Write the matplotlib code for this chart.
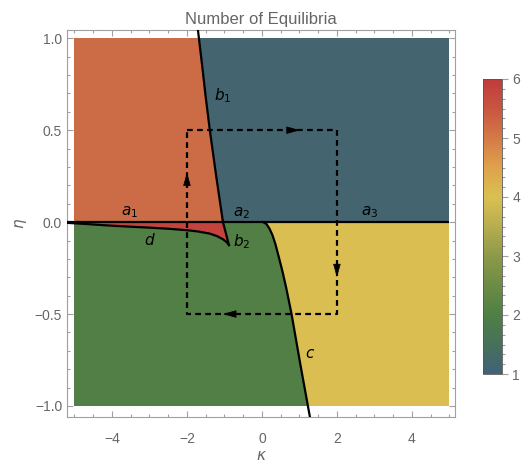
import matplotlib
matplotlib.use("Agg")
from matplotlib import pyplot as plt
from matplotlib.patches import Polygon, Rectangle
from matplotlib.colors import LinearSegmentedColormap, Normalize
from matplotlib.ticker import MultipleLocator, FuncFormatter

# boundary curves (kappa, eta)
b1_x = [-0.88, -0.95, -1.04, -1.22, -1.39, -1.5, -1.6, -1.71]
b1_y = [-0.125, -0.07, 0.0, 0.25, 0.5, 0.68, 0.86, 1.05]

d_x = [-0.88, -0.95, -1.05, -1.2, -1.4, -1.7, -2.0, -2.5, -3.0, -3.6, -4.2, -4.7, -5.2]
d_y = [-0.125, -0.107, -0.092, -0.076, -0.062, -0.051, -0.044, -0.036, -0.03, -0.024, -0.017, -0.01, -0.004]

c_x = [0.03, 0.12, 0.2, 0.28, 0.36, 0.45, 0.55, 0.65, 0.79, 1.03, 1.28]
c_y = [0.0, -0.01, -0.035, -0.07, -0.12, -0.19, -0.27, -0.36, -0.5, -0.78, -1.06]

# dashed loop and its arrows (tail x, tail y, tip x, tip y)
loop_x = [-2, 2, 2, -2, -2]
loop_y = [0.5, 0.5, -0.5, -0.5, 0.5]
arrows = [(-2, 0.2, -2, 0.27), (0.72, 0.5, 1.01, 0.5),
          (2, -0.22, 2, -0.3), (-0.72, -0.5, -1.04, -0.5)]

labels = [("$a_1$", -3.52, 0.055), ("$a_2$", -0.54, 0.05), ("$a_3$", 2.88, 0.055),
          ("$b_1$", -1.05, 0.69), ("$b_2$", -0.54, -0.107), ("$c$", 1.28, -0.72),
          ("$d$", -2.99, -0.098)]

col_1 = "#44646f"
col_2 = "#517f45"
col_3 = "#dabe52"
col_5 = "#cb6c47"
col_6 = "#c4433e"

cbar_colors = ["#41617a", "#46715a", "#4f7f45", "#6c8c45", "#8d9a48", "#b7ad50",
               "#d9c052", "#dfa24c", "#d47a47", "#c9563f", "#bf3b3c"]

gray = "#666666"
frame = "#a0a0a0"

plt.rcParams["font.family"] = ["Liberation Sans", "DejaVu Sans"]
plt.rcParams["mathtext.fontset"] = "dejavusans"

fig = plt.figure(figsize=(5.21, 4.66), dpi=100)
ax = fig.add_axes([67 / 521, 49 / 466, 388 / 521, 387 / 466])
ax.set_xlim(-5.2, 5.15)
ax.set_ylim(-1.06, 1.045)

clip = Rectangle((-5, -1), 10, 2, transform=ax.transData)

up_b1 = [(x, y) for x, y in zip(b1_x, b1_y) if y >= 0]
low_b1 = [(x, y) for x, y in zip(b1_x, b1_y) if y <= 0]
c_pts = list(zip(c_x, c_y))
d_pts = list(zip(d_x, d_y))

polys = [
    ([(-6, 0)] + up_b1 + [(-6, 1.2)], col_5),
    (up_b1 + [(-1.71, 1.2), (6, 1.2), (6, 0)], col_1),
    ([(-6, 0)] + c_pts + [(1.3, -1.2), (-6, -1.2)], col_2),
    (c_pts + [(1.3, -1.2), (6, -1.2), (6, 0)], col_3),
    ([(-6, 0), (-1.04, 0)] + low_b1[::-1][1:] + d_pts[1:] + [(-6, -0.004)], col_6),
]

for pts, col in polys:
    p = Polygon(pts, closed=True, facecolor=col, edgecolor="none", zorder=1)
    ax.add_patch(p)
    p.set_clip_path(clip)

lw = 1.6
ax.plot([-5.2, 5.0], [0, 0], color="black", lw=lw, zorder=3, solid_capstyle="butt")
ax.plot(b1_x, b1_y, color="black", lw=lw, zorder=3)
ax.plot(d_x, d_y, color="black", lw=lw, zorder=3)
ax.plot(c_x, c_y, color="black", lw=lw, zorder=3)

ax.plot(loop_x, loop_y, color="black", lw=1.6, ls=(0, (2.6, 1.9)), zorder=4)
for x0, y0, x1, y1 in arrows:
    ax.annotate("", xy=(x1, y1), xytext=(x0, y0),
                arrowprops=dict(arrowstyle="-|>,head_length=0.85,head_width=0.24",
                                color="black", lw=0.5, shrinkA=0, shrinkB=0), zorder=5)

for txt, x, y in labels:
    ax.text(x, y, txt, fontsize=11, ha="center", va="center", zorder=6)

ax.set_title("Number of Equilibria", color=gray, fontsize=12, pad=4)
ax.set_xlabel(r"$\kappa$", color=gray, fontsize=11, labelpad=2)
ax.set_ylabel(r"$\eta$", color=gray, fontsize=11, labelpad=4)

ax.xaxis.set_major_locator(MultipleLocator(2))
ax.xaxis.set_minor_locator(MultipleLocator(0.5))
ax.yaxis.set_major_locator(MultipleLocator(0.5))
ax.yaxis.set_minor_locator(MultipleLocator(0.1))
ax.tick_params(which="both", direction="in", top=True, right=True, color=frame,
               labelcolor=gray, labelsize=10, width=0.8)
ax.tick_params(which="major", length=4.5)
ax.tick_params(which="minor", length=2.5)
ax.tick_params(axis="x", which="both", pad=11)
ax.xaxis.set_major_formatter(FuncFormatter(
    lambda v, p: ("\u2212" if v < 0 else "") + f"{abs(v):.0f}"))
ax.yaxis.set_major_formatter(FuncFormatter(
    lambda v, p: ("\u2212" if v < 0 else "") + f"{abs(v):.1f}"))
for s in ax.spines.values():
    s.set_color(frame)
    s.set_linewidth(0.8)

# colour bar
cmap = LinearSegmentedColormap.from_list("darkrainbow", cbar_colors)
cax = fig.add_axes([483 / 521, 92 / 466, 19 / 521, 295 / 466])
sm = plt.cm.ScalarMappable(norm=Normalize(1, 6), cmap=cmap)
cb = fig.colorbar(sm, cax=cax)
cb.set_ticks([1, 2, 3, 4, 5, 6])
cb.ax.yaxis.set_minor_locator(MultipleLocator(1 / 6))
cb.ax.tick_params(which="both", color=frame, labelcolor=gray, labelsize=10, width=0.8)
cb.ax.tick_params(which="major", length=4)
cb.ax.tick_params(which="minor", length=2)
cb.outline.set_edgecolor("#555555")
cb.outline.set_linewidth(0.6)

fig.savefig("out.png", dpi=100)
